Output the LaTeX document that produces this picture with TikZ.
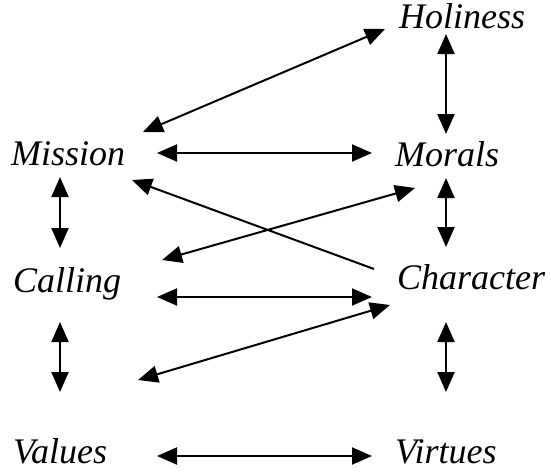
\documentclass[tikz,border=0pt]{standalone}
\usepackage{fontspec}
\setmainfont{Liberation Serif}
\usetikzlibrary{arrows.meta}
\tikzset{
  lbl/.style={anchor=base west, inner sep=0pt, font=\fontsize{36}{40}\selectfont\itshape},
  conn/.style={line width=2pt, {Triangle[length=20pt,width=17pt]}-{Triangle[length=20pt,width=17pt]}},
  oneway/.style={line width=2pt, -{Triangle[length=20pt,width=17pt]}}
}
\begin{document}
\begin{tikzpicture}[x=1pt,y=-1pt]
\useasboundingbox (0,0) rectangle (551,471);
\node[lbl] (holiness) at (399,28) {Holiness};
\node[lbl] (mission) at (11,165) {Mission};
\node[lbl] (morals) at (395,166) {Morals};
\node[lbl] (calling) at (13,292) {Calling};
\node[lbl] (character) at (397,289) {Character};
\node[lbl] (values) at (13,463) {Values};
\node[lbl] (virtues) at (395,463) {Virtues};
% connector end points
\coordinate (hmA) at (385,29);  \coordinate (hmB) at (143,132);
\coordinate (hvA) at (446,34);  \coordinate (hvB) at (446,134);
\coordinate (mmA) at (157,153); \coordinate (mmB) at (372,153);
\coordinate (mcA) at (60,177);  \coordinate (mcB) at (60,248);
\coordinate (mchA) at (446,178); \coordinate (mchB) at (446,247);
\coordinate (chmA) at (374,269); \coordinate (chmB) at (132,180);
\coordinate (mocA) at (415,188); \coordinate (mocB) at (162,260);
\coordinate (ccA) at (157,297); \coordinate (ccB) at (372,297);
\coordinate (cvA) at (60,322);  \coordinate (cvB) at (60,392);
\coordinate (chvA) at (446,322); \coordinate (chvB) at (446,392);
\coordinate (vcA) at (138,380); \coordinate (vcB) at (390,305);
\coordinate (vvA) at (157,456); \coordinate (vvB) at (372,456);
\draw[conn] (hmA) -- (hmB);
\draw[conn] (hvA) -- (hvB);
\draw[conn] (mmA) -- (mmB);
\draw[conn] (mcA) -- (mcB);
\draw[conn] (mchA) -- (mchB);
\draw[oneway] (chmA) -- (chmB);
\draw[conn] (mocA) -- (mocB);
\draw[conn] (ccA) -- (ccB);
\draw[conn] (cvA) -- (cvB);
\draw[conn] (chvA) -- (chvB);
\draw[conn] (vcA) -- (vcB);
\draw[conn] (vvA) -- (vvB);
\end{tikzpicture}
\end{document}
